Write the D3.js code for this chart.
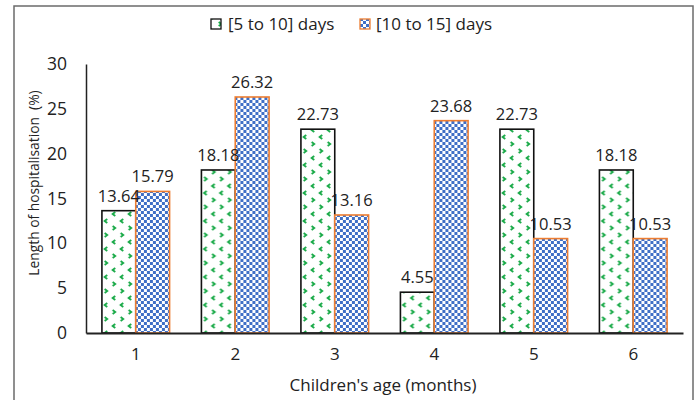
<!DOCTYPE html>
<html>
<head>
<meta charset="utf-8">
<script src="https://cdn.jsdelivr.net/npm/d3@7"></script>
<style>
  body { margin: 0; background: #fff; }
  text { font-family: "Open Sans", sans-serif; fill: #222; }
</style>
</head>
<body>
<div id="chart"></div>
<script>
// chart data
const ages = ["1", "2", "3", "4", "5", "6"];
const seriesNames = ["[5 to 10] days", "[10 to 15] days"];
const shortStay = [13.64, 18.18, 22.73, 4.55, 22.73, 18.18];
const longStay = [15.79, 26.32, 13.16, 23.68, 10.53, 10.53];
const yTicks = [0, 5, 10, 15, 20, 25, 30];

const W = 698, H = 400;
const margin = { top: 64, right: 15, bottom: 67, left: 86 },
      width = W - margin.left - margin.right,
      height = H - margin.top - margin.bottom;

const svg = d3.select("#chart")
    .append("svg")
    .attr("width", W)
    .attr("height", H);

// patterns
const defs = svg.append("defs");

const green = defs.append("pattern")
    .attr("id", "greenDots")
    .attr("patternUnits", "userSpaceOnUse")
    .attr("width", 16)
    .attr("height", 28);
green.append("rect").attr("width", 16).attr("height", 28).attr("fill", "#fff");
// small chevrons, mixed directions
[[4, 3, 1], [12, 10, -1], [4, 17, -1], [12, 24, 1]].forEach(([cx, cy, dir]) => {
    green.append("path")
        .attr("d", `M${cx - 1.3 * dir},${cy - 2} L${cx + 1.3 * dir},${cy} L${cx - 1.3 * dir},${cy + 2}`)
        .attr("fill", "none")
        .attr("stroke", "#14a844")
        .attr("stroke-width", 1.8);
});

const blue = defs.append("pattern")
    .attr("id", "blueCheck")
    .attr("patternUnits", "userSpaceOnUse")
    .attr("width", 6)
    .attr("height", 6);
blue.append("rect").attr("width", 6).attr("height", 6).attr("fill", "#fff");
blue.append("rect").attr("width", 3).attr("height", 3).attr("fill", "#3f6fc6");
blue.append("rect").attr("x", 3).attr("y", 3).attr("width", 3).attr("height", 3).attr("fill", "#3f6fc6");

// outer frame
svg.append("rect")
    .attr("x", 14)
    .attr("y", 6)
    .attr("width", 679)
    .attr("height", 400)
    .attr("fill", "none")
    .attr("stroke", "#6b6b6b")
    .attr("stroke-width", 1.5);

const g = svg.append("g")
    .attr("transform", `translate(${margin.left},${margin.top})`);

const x = d3.scaleBand()
    .domain(ages)
    .range([0, width])
    .paddingInner(0.32)
    .paddingOuter(0.16);

const xs = d3.scaleBand()
    .domain([0, 1])
    .range([0, x.bandwidth()]);

const y = d3.scaleLinear()
    .domain([0, 30])
    .range([height, 0]);

const rows = ages.map((a, i) => ({ age: a, vals: [shortStay[i], longStay[i]] }));
const fills = ["url(#greenDots)", "url(#blueCheck)"];
const strokes = ["#111", "#ed7d31"];

const groups = g.selectAll(".grp")
    .data(rows)
    .enter()
    .append("g")
    .attr("transform", d => `translate(${x(d.age)},0)`);

groups.selectAll("rect")
    .data(d => d.vals.map((v, k) => ({ v, k })))
    .enter()
    .append("rect")
    .attr("x", d => xs(d.k))
    .attr("y", d => y(d.v))
    .attr("width", xs.bandwidth())
    .attr("height", d => y(0) - y(d.v))
    .attr("fill", d => fills[d.k])
    .attr("stroke", d => strokes[d.k])
    .attr("stroke-width", 1.6);

// value labels
groups.selectAll(".val")
    .data(d => d.vals.map((v, k) => ({ v, k })))
    .enter()
    .append("text")
    .attr("x", d => xs(d.k) + xs.bandwidth() / 2)
    .attr("y", d => y(d.v) - 9)
    .attr("text-anchor", "middle")
    .style("font-size", "16.5px")
    .text(d => d.v.toFixed(2));

// Y axis
const yAxis = g.append("g")
    .call(d3.axisLeft(y).tickValues(yTicks).tickSize(0).tickPadding(19));
yAxis.select(".domain").attr("stroke", "#222").attr("stroke-width", 1.5);
yAxis.selectAll("text").style("font-size", "17.5px").style("font-family", "'Open Sans', sans-serif").attr("fill", "#222");

// X axis
const xAxis = g.append("g")
    .attr("transform", `translate(0,${y(0)})`)
    .call(d3.axisBottom(x).tickSize(0).tickPadding(15));
xAxis.select(".domain").attr("stroke", "#222").attr("stroke-width", 2);
xAxis.selectAll("text").style("font-size", "17px").style("font-family", "'Open Sans', sans-serif").attr("fill", "#222");

// axis titles
svg.append("text")
    .attr("text-anchor", "middle")
    .attr("transform", `translate(39,183) rotate(-90)`)
    .style("font-size", "13.8px")
    .style("white-space", "pre")
    .text("Length of hospitalisation  (%)");

svg.append("text")
    .attr("text-anchor", "middle")
    .attr("x", 383)
    .attr("y", 391)
    .style("font-size", "17px")
    .text("Children's age (months)");

// legend
const legendPos = [[211, 228], [360, 376]];
seriesNames.forEach((name, k) => {
    svg.append("rect")
        .attr("x", legendPos[k][0])
        .attr("y", 19)
        .attr("width", 10)
        .attr("height", 10)
        .attr("fill", fills[k])
        .attr("stroke", strokes[k])
        .attr("stroke-width", 1.3);
    svg.append("text")
        .attr("x", legendPos[k][1])
        .attr("y", 30)
        .style("font-size", "17px")
        .text(name);
});
</script>
</body>
</html>
